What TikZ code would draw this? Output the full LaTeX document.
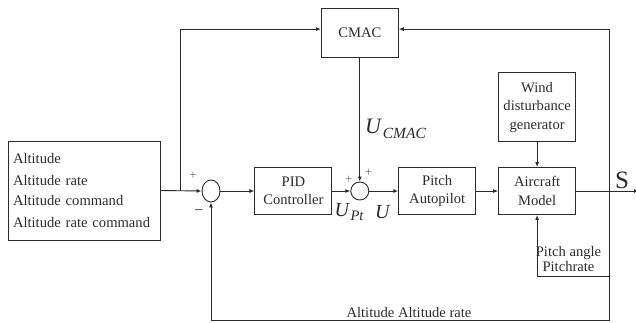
\documentclass[tikz,border=0pt]{standalone}
\usepackage{fontspec}
\setmainfont{Liberation Serif}
\usepackage{tikz}
\usetikzlibrary{
  arrows.meta,
  shapes.geometric,
  positioning,
  calc
}
\definecolor{cmInk}{HTML}{2B2B2B}
\newcommand\blkfont{\fontsize{14.6}{18.5}\selectfont}
\newcommand\sigsub[3]{\textit{#1}\kern0.5pt\raisebox{-0.2em}{\fontsize{#3}{#3}\selectfont\itshape #2}}
\tikzset{
  ctrlblock/.style={
    draw=cmInk, line width=0.9pt, minimum width=77pt, minimum height=47pt,
    inner sep=1pt, align=center, font=\blkfont, text=cmInk
  },
  inbox/.style={
    draw=cmInk, line width=0.9pt, text width=142pt, minimum height=99pt,
    inner xsep=5pt, align=left, font=\fontsize{14.6}{21}\selectfont, text=cmInk
  },
  sumjunc/.style={draw=cmInk, line width=0.9pt, ellipse, inner sep=0pt,
    minimum width=18pt, minimum height=22pt},
  sumsmall/.style={draw=cmInk, line width=0.9pt, circle, inner sep=0pt,
    minimum size=18pt},
  sgnlabel/.style={font=\fontsize{13}{13}\selectfont, text=cmInk!70, inner sep=0pt},
  siglabel/.style={font=\fontsize{20}{22}\selectfont, text=cmInk, inner sep=0pt},
  tag/.style={font=\blkfont, text=cmInk, inner sep=1pt, align=center},
  flow/.style={-{Latex[length=5pt, width=4pt]}, line width=0.9pt, cmInk},
  netline/.style={line width=0.9pt, cmInk}
}

\begin{document}
\begin{tikzpicture}[x=1pt, y=-1pt]
  \useasboundingbox (0,0) rectangle (636,322);
  % main loop
  \node[inbox] (cmd) at (84,190.5) {Altitude\\Altitude rate\\Altitude command\\Altitude rate command};
  \node[sumjunc] (sum1) at (211,191) {};
  \node[ctrlblock, right=34pt of sum1] (pid) {PID\\Controller};
  \node[sumsmall, right=18pt of pid] (sum2) {};
  \node[ctrlblock, right=29pt of sum2] (pitch) {Pitch\\Autopilot};
  \node[ctrlblock, right=22pt of pitch] (plane) {Aircraft\\Model};
  \node[ctrlblock, minimum height=69pt, above=25pt of plane] (wind) {Wind\\disturbance\\generator};
  \node[ctrlblock, minimum height=49pt, above=124pt of sum2] (cmac) {CMAC};
  \coordinate (split) at ($(cmd.east)+(20,0)$);
  \coordinate (tap) at ($(plane.east)+(33,0)$);
  \coordinate (out) at ($(plane.east)+(63,0)$);
  \coordinate (pb) at ($(tap)+(0,85)$);
  \coordinate (fb) at ($(tap)+(0,129)$);

  \draw[flow] (cmd.east) -- (sum1.west);
  \draw[flow] (split) |- ([yshift=3.5pt]cmac.west);
  \draw[flow] (sum1) -- (pid);
  \draw[flow] (pid) -- (sum2);
  \draw[flow] (cmac) -- (sum2);
  \draw[flow] (sum2) -- (pitch);
  \draw[flow] (pitch) -- (plane);
  \draw[flow] (wind) -- (plane);
  \draw[flow] (plane.east) -- (out);
  \draw[flow] (tap) |- ([yshift=3.5pt]cmac.east);
  \draw[flow] (tap) -- (fb) -| (sum1.south);
  \draw[flow] (pb) -| (plane.south);

  % signs and signals
  \node[sgnlabel] (p1) at ($(sum1)+(-18,-15)$) {+};
  \node[sgnlabel, text=cmInk, font=\fontsize{16}{16}\selectfont] (m1) at ($(sum1)+(-12,22)$) {−};
  \node[sgnlabel] (p2) at ($(sum2)+(-11,-11)$) {+};
  \node[sgnlabel] (p3) at ($(sum2)+(9,-18)$) {+};
  \node[siglabel, font=\fontsize{22}{24}\selectfont, anchor=west] (ucmac) at (365,129) {\sigsub{U}{CMAC}{15.5}};
  \node[siglabel] (upt) at (349,212) {\sigsub{U}{Pt}{14.5}};
  \node[siglabel] (u) at (383,212) {\textit{U}};
  \node[siglabel, font=\fontsize{25}{25}\selectfont] (s) at (622,180) {S};
  \node[tag, font=\fontsize{14.6}{15}\selectfont] (pitchtag) at (568.5,259) {Pitch angle\\Pitchrate};
  \node[tag] (alttag) at (409,312) {Altitude Altitude rate};
\end{tikzpicture}
\end{document}
